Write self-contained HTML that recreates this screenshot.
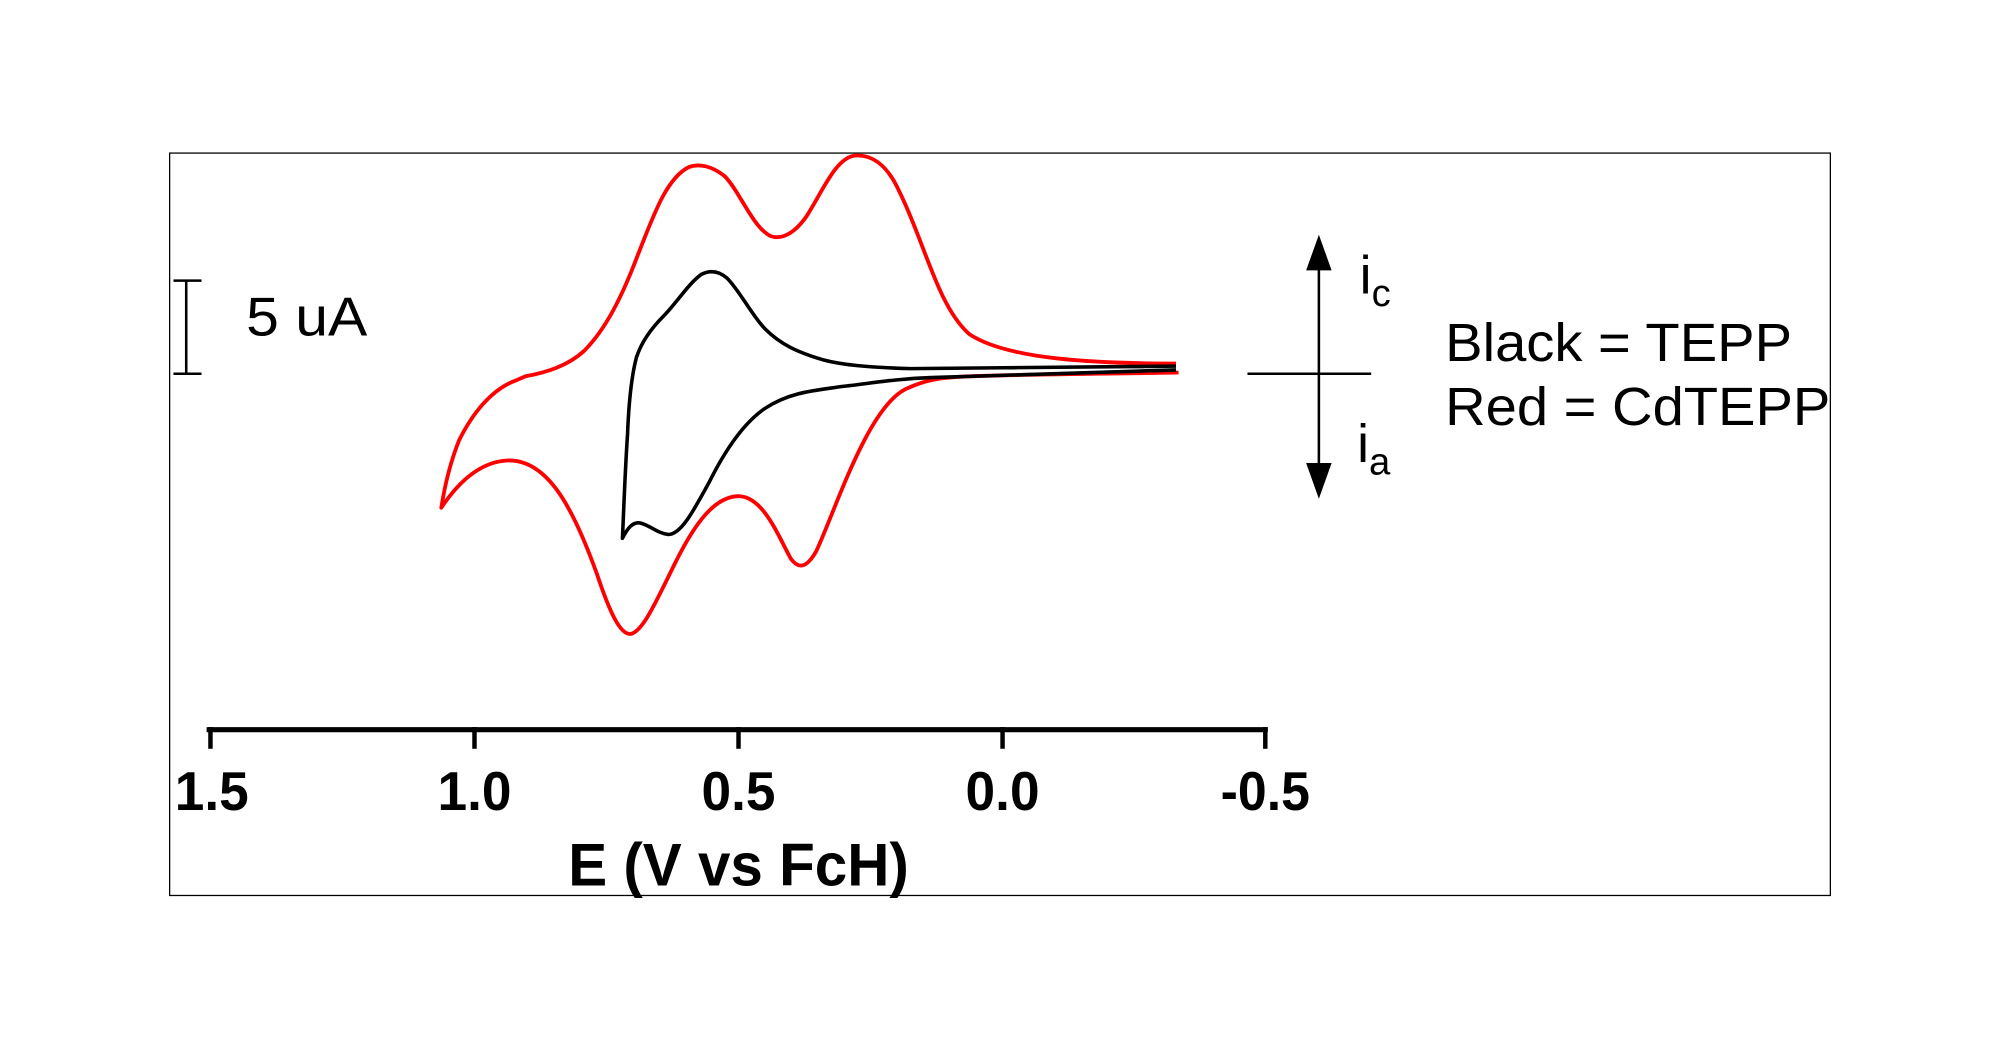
<!DOCTYPE html>
<html><head><style>html,body{margin:0;padding:0;background:#fff}svg{display:block}</style></head>
<body>
<svg width="2000" height="1046" viewBox="0 0 1568 820" preserveAspectRatio="none" xmlns="http://www.w3.org/2000/svg" font-family="Liberation Sans, Arial, sans-serif">
<rect x="133" y="120" width="1302" height="582" fill="none" stroke="#000" stroke-width="1"/>
<!-- red -->
<path fill="none" stroke="#f00" stroke-width="3" stroke-linejoin="round" d="M922,285 C860,285 790,282 760,262 C735,240 725,190 705,150 C695,128 683,121 670,122 C655,124 645,150 632,170 C622,184 612,188 604,185 C590,178 580,150 568,138 C558,130 548,128 540,131 C522,140 512,170 500,200 C488,232 475,258 458,275 C445,287 428,292 412,295 L405,298 C385,305 370,325 360,345 C352,365 348,385 346,398 C358,380 375,362 398,361 C430,360 450,400 468,450 C478,480 486,497 494,497 C504,496 515,470 530,440 C545,410 560,390 578,389 C598,388 610,420 620,438 C626,446 632,446 640,432 C655,400 680,320 710,305 C725,298 735,296 760,295 C820,293 880,293 924,292"/>
<!-- black -->
<path fill="none" stroke="#000" stroke-width="2.8" stroke-linejoin="round" d="M922,287 C850,288 780,289 714,289 C680,288 660,286 645,282 C625,276 612,270 600,258 C590,248 580,228 570,218 C563,212 556,212 550,215 C540,222 530,238 520,248 C510,258 503,268 499,280 C495,295 493,315 492,340 C490,370 489,400 488,422 C492,414 496,409 502,410 C510,412 515,418 524,419 C534,419 544,400 556,378 C570,350 585,330 600,320 C620,307 640,306 660,303 C680,301 700,297 730,296 C800,294 870,292 922,290"/>
<!-- axis -->
<line x1="162" y1="572" x2="994" y2="572" stroke="#000" stroke-width="4"/>
<g stroke="#000" stroke-width="3.5">
<line x1="165" y1="570" x2="165" y2="587"/><line x1="372" y1="570" x2="372" y2="587"/><line x1="579" y1="570" x2="579" y2="587"/><line x1="786" y1="570" x2="786" y2="587"/><line x1="992" y1="570" x2="992" y2="587"/>
</g>
<g font-weight="bold" font-size="43" text-anchor="middle" lengthAdjust="spacingAndGlyphs">
<text x="166" y="635" textLength="58" lengthAdjust="spacingAndGlyphs">1.5</text><text x="372" y="635" textLength="58" lengthAdjust="spacingAndGlyphs">1.0</text><text x="579" y="635" textLength="58" lengthAdjust="spacingAndGlyphs">0.5</text><text x="786" y="635" textLength="58" lengthAdjust="spacingAndGlyphs">0.0</text><text x="992" y="635" textLength="70" lengthAdjust="spacingAndGlyphs">-0.5</text>
</g>
<text x="579" y="694" font-weight="bold" font-size="47" text-anchor="middle" textLength="267" lengthAdjust="spacingAndGlyphs">E (V vs FcH)</text>
<!-- scale bar -->
<g stroke="#000" stroke-width="2"><line x1="146" y1="220" x2="146" y2="293"/><line x1="136" y1="220" x2="158" y2="220"/><line x1="136" y1="293" x2="158" y2="293"/></g>
<text x="193" y="263" font-size="43" textLength="95" lengthAdjust="spacingAndGlyphs">5 uA</text>
<!-- arrows -->
<g stroke="#000" stroke-width="2"><line x1="1034" y1="200" x2="1034" y2="375"/><line x1="978" y1="293" x2="1075" y2="293"/></g>
<polygon points="1034,184 1024,212 1044,212" fill="#000"/>
<polygon points="1034,391 1024,363 1044,363" fill="#000"/>
<text x="1066" y="230" font-size="42">i<tspan font-size="30" dy="10">c</tspan></text>
<text x="1064" y="362" font-size="42">i<tspan font-size="30" dy="10">a</tspan></text>
<text x="1133" y="283" font-size="42" textLength="272" lengthAdjust="spacingAndGlyphs">Black = TEPP</text>
<text x="1133" y="333" font-size="42" textLength="302" lengthAdjust="spacingAndGlyphs">Red = CdTEPP</text>
</svg>
</body></html>
